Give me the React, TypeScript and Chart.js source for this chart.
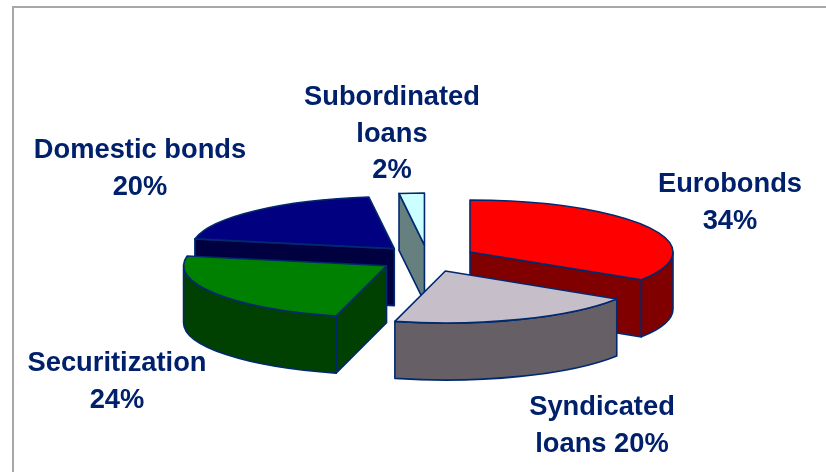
import React, { useEffect, useRef } from "react";
import { Chart, registerables } from "chart.js";

Chart.register(...registerables);

// Share of borrowing by instrument, clockwise from twelve o'clock.
const categories = ["Eurobonds", "Syndicated loans", "Securitization", "Domestic bonds", "Subordinated loans"];
const shares = [34, 20, 24, 20, 2];

const topColors = ["#FF0000", "#C6BFCA", "#008000", "#000080", "#CCFFFF"];
const sideColors = ["#800000", "#666066", "#004000", "#000040", "#668080"];
const OUTLINE = "#00296F";
const TEXT = "#00206B";

// Callout text: the lines of each label, in slice order.
const labelLines = [
  ["Eurobonds", "34%"],
  ["Syndicated", "loans 20%"],
  ["Securitization", "24%"],
  ["Domestic bonds", "20%"],
  ["Subordinated", "loans", "2%"],
];
const labelCenters = [730, 602, 117, 140, 392];
const labelBaselines = [192, 415, 371, 158, 105];
const LINE_HEIGHT = 36.5;

// Tilted-disc projection of the pie and how far each slice is pulled out.
const RADIUS_X = 203;
const RADIUS_Y = 52;
const DEPTH = 57;
const EXPLODE_X = 48.5;
const EXPLODE_Y = 13.5;

const pie3d = {
  id: "pie3d",
  beforeDraw(chart: any) {
    const { ctx, width, height } = chart;
    ctx.save();
    ctx.fillStyle = "#FFFFFF";
    ctx.fillRect(0, 0, width, height);
    ctx.strokeStyle = "#A8A8A8";
    ctx.lineWidth = 2;
    ctx.beginPath();
    ctx.moveTo(13, height);
    ctx.lineTo(13, 7);
    ctx.lineTo(width, 7);
    ctx.stroke();
    ctx.restore();
  },
  beforeDatasetsDraw(chart: any) {
    const { ctx } = chart;
    const arcs = chart.getDatasetMeta(0).data as any[];
    const sx = RADIUS_X / arcs[0].outerRadius;
    const sy = RADIUS_Y / arcs[0].outerRadius;

    const slices = arcs.map((arc, i) => {
      const mid = (arc.startAngle + arc.endAngle) / 2;
      return {
        arc,
        i,
        a0: arc.startAngle,
        a1: arc.endAngle,
        ax: arc.x + Math.cos(mid) * EXPLODE_X,
        ay: arc.y + Math.sin(mid) * EXPLODE_Y,
      };
    });
    // Paint from the back of the scene to the front.
    slices.sort((p, q) => p.ay - q.ay);

    ctx.save();
    ctx.lineWidth = 1.6;
    ctx.lineJoin = "round";
    ctx.strokeStyle = OUTLINE;

    const paint = (fill: string) => {
      ctx.fillStyle = fill;
      ctx.fill();
      ctx.stroke();
    };
    const radialFace = (s: any, angle: number, fill: string) => {
      const ex = s.ax + Math.cos(angle) * RADIUS_X;
      const ey = s.ay + Math.sin(angle) * RADIUS_Y;
      ctx.beginPath();
      ctx.moveTo(s.ax, s.ay);
      ctx.lineTo(ex, ey);
      ctx.lineTo(ex, ey + DEPTH);
      ctx.lineTo(s.ax, s.ay + DEPTH);
      ctx.closePath();
      paint(fill);
    };

    for (const s of slices) {
      const side = sideColors[s.i];
      // Cut faces turned toward the viewer.
      if (Math.cos(s.a0) < -1e-6) radialFace(s, s.a0, side);
      if (Math.cos(s.a1) > 1e-6) radialFace(s, s.a1, side);

      // Rim: only the part on the near half of the disc shows.
      const w0 = Math.max(s.a0, 0);
      const w1 = Math.min(s.a1, Math.PI);
      if (w1 > w0) {
        ctx.beginPath();
        ctx.ellipse(s.ax, s.ay, RADIUS_X, RADIUS_Y, 0, w0, w1);
        ctx.ellipse(s.ax, s.ay + DEPTH, RADIUS_X, RADIUS_Y, 0, w1, w0, true);
        ctx.closePath();
        paint(side);
      }

      // Top face: the library's arc, squashed and moved to its pulled-out spot.
      ctx.save();
      ctx.translate(s.ax, s.ay);
      ctx.scale(sx, sy);
      ctx.translate(-s.arc.x, -s.arc.y);
      s.arc.draw(ctx);
      ctx.restore();

      ctx.beginPath();
      ctx.moveTo(s.ax, s.ay);
      ctx.ellipse(s.ax, s.ay, RADIUS_X, RADIUS_Y, 0, s.a0, s.a1);
      ctx.closePath();
      ctx.stroke();
    }
    ctx.restore();
    return false;
  },
  afterDraw(chart: any) {
    const { ctx } = chart;
    ctx.save();
    ctx.fillStyle = TEXT;
    ctx.font = 'bold 27.3px "Liberation Sans"';
    ctx.textAlign = "center";
    ctx.textBaseline = "alphabetic";
    labelLines.forEach((lines, i) => {
      lines.forEach((line, j) => {
        ctx.fillText(line, labelCenters[i], labelBaselines[i] + j * LINE_HEIGHT);
      });
    });
    ctx.restore();
  },
};

export default function App() {
  const ref = useRef<HTMLCanvasElement>(null);
  useEffect(() => {
    const chart = new Chart(ref.current as HTMLCanvasElement, {
      type: "pie",
      data: {
        labels: categories,
        datasets: [
          {
            data: shares,
            backgroundColor: topColors,
            borderWidth: 0,
          },
        ],
      },
      options: {
        responsive: false,
        animation: false,
        layout: { padding: { left: 29, top: 45 } },
        plugins: { legend: { display: false }, tooltip: { enabled: false } },
      },
      plugins: [pie3d],
    } as any);
    return () => chart.destroy();
  }, []);
  return (
    <div style={{ position: "absolute", left: 0, top: 0, width: 826, height: 472 }}>
      <canvas ref={ref} width={826} height={472} style={{ display: "block" }} />
    </div>
  );
}
